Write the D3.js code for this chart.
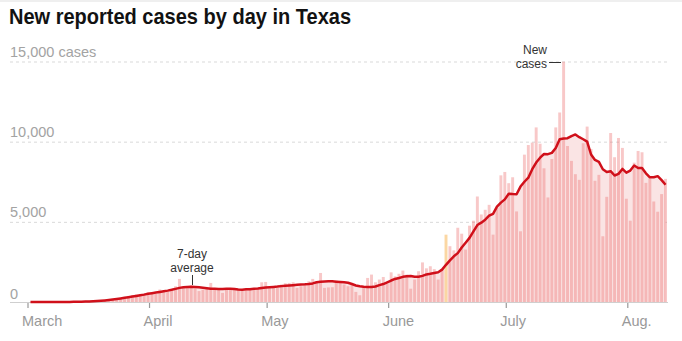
<!DOCTYPE html>
<html><head><meta charset="utf-8">
<script src="https://cdn.jsdelivr.net/npm/d3@7"></script>
<style>
body{margin:0;background:#fff;}
svg{display:block;font-family:"Liberation Sans",Arial,sans-serif;}
</style></head><body>
<svg id="chart" width="682" height="341"></svg>
<script>
const startDate = "2020-03-01";
const endDate = "2020-08-11";
const cases = [
0,0,0,1,2,3,5,4,6,8,10,15,20,25,30,35,45,60,80,110,150,190,220,250,300,380,420,480,500,540,600,
600,500,780,720,650,760,980,1440,900,1000,1030,850,680,760,820,1190,780,850,570,780,820,880,820,700,760,880,790,850,1230,1250,
860,880,870,1090,1170,1190,1230,880,980,1090,1290,1440,1290,1810,880,910,920,1340,1230,1090,980,1090,630,420,980,1500,1710,1230,1400,1560,1150,
1850,1600,1760,1960,1710,830,1400,1920,2470,2100,2230,2050,1400,1980,4200,3480,3220,4630,4260,3270,4760,5070,6580,5460,5750,6060,4200,5880,7900,8110,
7410,7780,5650,4410,9190,9790,9940,10890,9870,8340,6520,8920,10890,11820,14990,9730,8800,7970,7620,9900,10940,9540,7560,7930,4100,6560,10540,9030,10230,9610,6440,
5070,8690,9420,9340,7430,7700,6270,5630,6730,7680
];
const avg = [
0,0,0,0,1,1,2,2,3,4,6,8,12,17,24,32,42,56,75,98,125,155,190,225,262,300,340,380,420,460,510,
550,590,630,670,710,760,820,880,920,940,945,940,915,890,860,830,820,815,810,820,830,810,780,770,790,800,820,840,870,900,
920,940,960,990,1010,1030,1050,1070,1090,1100,1120,1160,1230,1260,1280,1290,1290,1270,1250,1230,1200,1120,1030,980,950,930,930,970,1050,1120,1230,
1340,1440,1500,1570,1600,1620,1570,1580,1630,1720,1760,1810,1860,2020,2320,2600,2850,3050,3400,3700,4000,4400,4800,4950,5130,5380,5500,5950,6200,6400,
6750,6730,6720,7200,7500,7750,8280,8700,9000,9230,9220,9300,9600,10150,10200,10220,10350,10450,10280,10150,10000,9200,8860,8740,8280,8110,8160,7890,7990,8300,8070,
8200,8510,8360,8360,8030,7780,7780,7850,7600,7310
];
const monthStarts = ["2020-03-01","2020-04-01","2020-05-01","2020-06-01","2020-07-01","2020-08-01"];
const monthLabels = ["March","April","May","June","July","Aug."];
const yTicks = [0,5000,10000,15000];
const yTickLabels = ["0","5,000","10,000","15,000 cases"];
const highlightDay = "2020-06-15";
const titleText = "New reported cases by day in Texas";

const parse = d3.utcParse("%Y-%m-%d");
const days = d3.utcDay.range(parse(startDate), parse(endDate));
const data = days.map((d,i)=>({date:d, cases:cases[i], avg:avg[i]}));

const svg = d3.select("#chart");
const x = d3.scaleUtc().domain([parse(startDate), parse(endDate)]).range([28,667]);
const y = d3.scaleLinear().domain([0,15000]).range([302,61.5]);
const step = x(days[1]) - x(days[0]);

svg.append("rect").attr("x",0).attr("y",0).attr("width",682).attr("height",2).attr("fill","#efefef");

// title
const title = svg.append("text").attr("x",9).attr("y",24)
  .attr("font-size",22).attr("font-weight","bold").attr("fill","#121212").text(titleText);
const tw = title.node().getComputedTextLength();
if (Math.abs(tw-342)>3) title.attr("textLength",342).attr("lengthAdjust","spacingAndGlyphs");

// gridlines
svg.append("g").selectAll("line").data(yTicks.filter(v=>v>0)).join("line")
  .attr("x1",10).attr("x2",668).attr("y1",d=>y(d)+0.5).attr("y2",d=>y(d)+0.5)
  .attr("stroke","#d9d9d9").attr("stroke-dasharray","3,3");

// area under average
const area = d3.area().x(d=>x(d.date)+step/2+0.5).y0(y(0)).y1(d=>y(d.avg));
svg.append("path").datum(data).attr("d",area).attr("fill","#fae4e4");

// bars
svg.append("g").selectAll("rect").data(data).join("rect")
  .attr("x",d=>x(d.date)+1).attr("width",step-1)
  .attr("y",d=>y(d.cases)).attr("height",d=>y(0)-y(d.cases))
  .attr("fill",d=>+d.date===+parse(highlightDay)?"#fbd7a3":"rgb(236,106,106)")
  .attr("fill-opacity",d=>+d.date===+parse(highlightDay)?1:0.37);

// baseline
svg.append("line").attr("x1",10).attr("x2",668).attr("y1",302.5).attr("y2",302.5)
  .attr("stroke","#cfcfcf").attr("stroke-width",1);

// avg line
const line = d3.line().x(d=>x(d.date)+step/2+0.5).y(d=>y(d.avg));
svg.append("path").datum(data).attr("d",line).attr("fill","none")
  .attr("stroke","#d0101a").attr("stroke-width",2.5).attr("stroke-linejoin","round");

// y labels
svg.append("g").selectAll("text").data(yTicks).join("text")
  .attr("x",10).attr("y",d=>d===0?y(d)-3.5:y(d)-4.5).attr("font-size",14.5).attr("fill","#a3a3a3")
  .text((d,i)=>yTickLabels[i]);

// x ticks
const mt = monthStarts.map(parse);
svg.append("g").selectAll("line").data(mt).join("line")
  .attr("x1",d=>x(d)).attr("x2",d=>x(d)).attr("y1",303).attr("y2",308)
  .attr("stroke","#999").attr("stroke-width",1.2);
svg.append("g").selectAll("text").data(mt).join("text")
  .attr("x",d=>x(d)-6).attr("y",326).attr("font-size",14.5).attr("fill","#999")
  .text((d,i)=>monthLabels[i]);

// annotations
const avgAnn = svg.append("g").attr("font-size",12).attr("fill","#333").attr("text-anchor","middle");
avgAnn.append("text").attr("x",192).attr("y",258).text("7-day");
avgAnn.append("text").attr("x",192).attr("y",271.5).text("average");
svg.append("line").attr("x1",192.5).attr("x2",192.5).attr("y1",275).attr("y2",285).attr("stroke","#333");

const newAnn = svg.append("g").attr("font-size",12).attr("fill","#333").attr("text-anchor","end");
newAnn.append("text").attr("x",547).attr("y",54).text("New");
newAnn.append("text").attr("x",547).attr("y",67.5).text("cases");
svg.append("line").attr("x1",549).attr("x2",561).attr("y1",62.5).attr("y2",62.5).attr("stroke","#333");
</script>
</body></html>
